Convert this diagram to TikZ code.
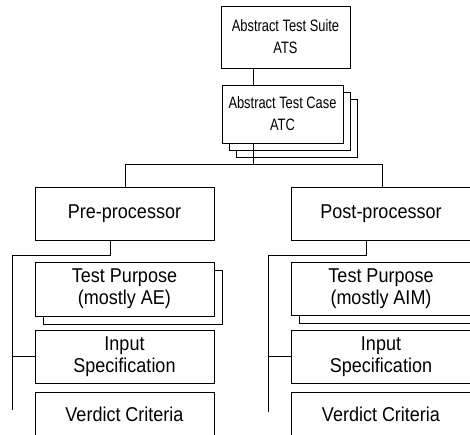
\documentclass[tikz,border=0pt]{standalone}
\usetikzlibrary{shadows}
\usepackage{fontspec}
\setmainfont{Liberation Sans}[FakeStretch=0.9]
\newfontfamily\suitefont{Liberation Sans}[FakeStretch=0.78]

\begin{document}
\begin{tikzpicture}[x=1pt,y=-1pt,line width=.7pt,
  box/.style={draw,rectangle,fill=white,align=center,inner sep=0pt,minimum width=179pt,minimum height=53pt,font=\fontsize{20}{22}\selectfont},
  suite/.style={box,minimum width=129pt,minimum height=62pt,font=\suitefont\fontsize{16.5}{22}\selectfont},
  stack/.style={double copy shadow={fill=white,draw=black,shadow xshift=7pt,shadow yshift=-7pt}},
  card/.style={copy shadow={fill=white,draw=black,shadow xshift=8pt,shadow yshift=-8pt}}]
\useasboundingbox (0,0) rectangle (470,434);
\clip (0,0) rectangle (470,434);
% suite and test case
\node [suite] (ats) at (285.5,37) {Abstract Test Suite\\ATS};
\node [suite,stack,minimum width=121pt,minimum height=58pt] (atc) at (282.5,114) {Abstract Test Case\\ATC};
% two columns
\node [box] (pre) at (124.5,213.5) {Pre-processor};
\node [box,minimum width=180pt] (post) at (381,213.5) {Post-processor};
\node [box,card,minimum height=54pt] (tpa) at (124.5,289) {Test Purpose\\(mostly AE)};
\node [box,card,minimum width=180pt] (tpb) at (381,288.5) {Test Purpose\\(mostly AIM)};
\node [box] (ina) at (124.5,356.5) {Input\\Specification};
\node [box,minimum width=180pt] (inb) at (381,356.5) {Input\\Specification};
\node [box,minimum height=44pt] (vca) at (124.5,414) {Verdict Criteria};
\node [box,minimum width=180pt,minimum height=44pt] (vcb) at (381,414) {Verdict Criteria};
% bus
\coordinate (mid) at (253,164);
\coordinate (busl) at (125,164);
\coordinate (busr) at (382,164);
\draw (ats.south -| mid) -- (atc.north -| mid);
\draw (atc.south -| mid) -- (mid);
\draw (pre.north -| busl) -- (busl) -- (busr) -- (post.north -| busr);
% trunks
\coordinate (prel) at (110,255);
\coordinate (trl) at (12,255);
\coordinate (trlend) at (12,410);
\draw (pre.south -| prel) -- (prel) -- (trl) -- (trlend);
\draw (trl |- ina.west) -- (ina.west);
\coordinate (postl) at (366,255);
\coordinate (trr) at (268,255);
\coordinate (trrend) at (268,412);
\draw (post.south -| postl) -- (postl) -- (trr) -- (trrend);
\draw (trr |- inb.west) -- (inb.west);
\end{tikzpicture}
\end{document}
